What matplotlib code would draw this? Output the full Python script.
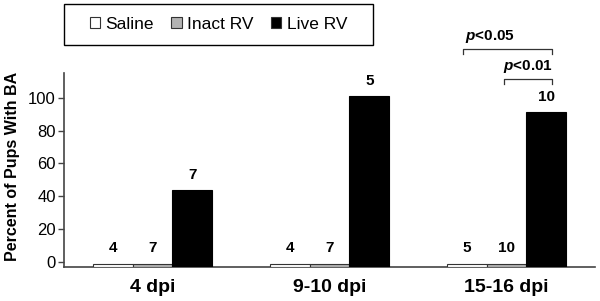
import matplotlib
matplotlib.use("Agg")
import matplotlib.pyplot as plt
import numpy as np
from matplotlib.patches import Patch, Rectangle

plt.rcParams['font.family'] = ['Liberation Sans', 'DejaVu Sans']
plt.rcParams['mathtext.fontset'] = 'custom'
plt.rcParams['mathtext.it'] = 'Liberation Sans:italic:bold'
plt.rcParams['mathtext.rm'] = 'Liberation Sans:bold'

groups = ["4 dpi", "9-10 dpi", "15-16 dpi"]
series = ["Saline", "Inact RV", "Live RV"]
saline = [0, 0, 0]
inact = [0, 0, 0]
live = [42.9, 100, 90]
n_saline = [4, 4, 5]
n_inact = [7, 7, 10]
n_live = [7, 5, 10]
colors = ["white", "#b3b3b3", "black"]
yticks = [0, 20, 40, 60, 80, 100]

fig = plt.figure(figsize=(6, 3.01), dpi=100)
ax = fig.add_axes([64/600, 1-267/301, (595-64)/600, (267-73)/301])

x = np.arange(len(groups))
w = 0.225
ymin = -3
vals = [saline, inact, live]
ns = [n_saline, n_inact, n_live]
for k, (v, c, n) in enumerate(zip(vals, colors, ns)):
    xs = x + (k-1)*w
    v = np.array(v, dtype=float)
    top = np.where(v > 0, v + 1, -1)
    ax.bar(xs, top - ymin, w, bottom=ymin, color=c,
           edgecolor="black" if k == 2 else "#333333", linewidth=0.8, zorder=3)
    for xi, ti, ni in zip(xs, top, n):
        ax.text(xi, ti + 5, str(ni), ha="center", va="bottom", fontsize=11, fontweight="bold")

ax.set_xlim(-0.5, 2.5)
ax.set_ylim(ymin, 115)
ax.set_yticks(yticks)
ax.set_yticklabels([str(t) for t in yticks], fontsize=12)
ax.set_xticks(x)
ax.set_xticklabels(groups, fontsize=14, fontweight="bold")
ax.tick_params(axis="x", length=0, pad=9)
ax.tick_params(axis="y", length=4, width=1, color="#444444", pad=2)
for s in ["top", "right"]:
    ax.spines[s].set_visible(False)
for s in ["left", "bottom"]:
    ax.spines[s].set_color("#444444")
    ax.spines[s].set_linewidth(1.2)
ax.set_ylabel("Percent of Pups With BA", fontsize=11.5, fontweight="bold")
ax.yaxis.set_label_coords(-0.083, 0.52)

# significance brackets
def bracket(x0, x1, y, dy, label, tx):
    ax.plot([x0, x0, x1, x1], [y - dy, y, y, y - dy], color="#333333", lw=0.9, clip_on=False)
    ax.text(tx, y + 2.5, label, ha="center", va="bottom", fontsize=11, fontweight="bold",
            clip_on=False)

bracket(1.755, 2.257, 129.5, 3.2, r"$p$<0.05", 1.905)
bracket(1.985, 2.257, 111.3, 3.0, r"$p$<0.01", 2.12)

# legend box
fig.add_artist(Rectangle((64/600, 1-45/301), (373-64)/600, 41/301, transform=fig.transFigure,
                         facecolor="white", edgecolor="black", linewidth=1.0))
handles = [Patch(facecolor=c, edgecolor="#333333", linewidth=0.8) for c in colors]
leg = fig.legend(handles, series, loc="center", ncol=3,
                 bbox_to_anchor=((64+373)/2/600, 1-24.5/301),
                 fontsize=12.5, frameon=False, handlelength=0.6, handleheight=0.6,
                 handletextpad=0.3, columnspacing=1.0, borderpad=0, borderaxespad=0)

fig.savefig("out.png", dpi=100)
